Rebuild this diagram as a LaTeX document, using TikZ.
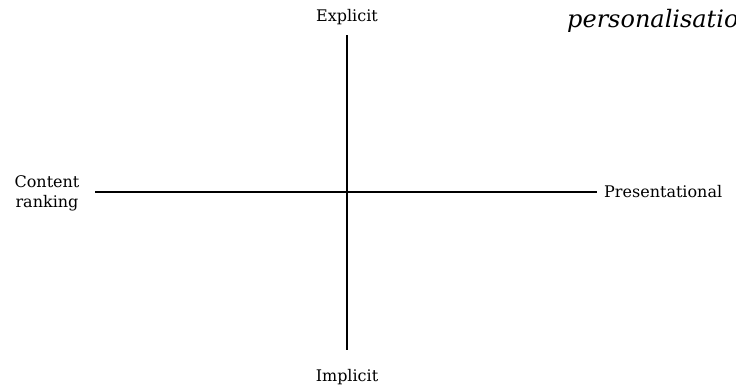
\documentclass[tikz,border=0pt]{standalone}
\usepackage{fontspec}
\setmainfont{DejaVu Serif}
\usepackage{tikz}
\usetikzlibrary{positioning}

\begin{document}
\begin{tikzpicture}[
  x=1pt, y=-1pt,
  lbl/.style={font=\fontsize{16}{20}\selectfont, inner sep=1pt, align=center},
  ttl/.style={font=\fontsize{24}{27}\selectfont\itshape, inner sep=0pt, anchor=west},
  axis/.style={line width=1.2pt},
]
\useasboundingbox (0,0) rectangle (736,391);
\clip (0,0) rectangle (736,391);

% Axis ends
\coordinate (top) at (347,35);
\coordinate (bottom) at (347,350);
\coordinate (left) at (95,192);
\coordinate (right) at (597,192);

% Labels
\node[lbl] (explicit) at (347,17) {Explicit};
\node[lbl] (implicit) at (347,377) {Implicit};
\node[lbl] (content) at (47,193) {Content\\ranking};
\node[lbl, anchor=west] (present) at (603,192) {Presentational};
\node[ttl] (title) at (567,21) {personalisation};

% Axes
\draw[axis] (top) -- (bottom);
\draw[axis] (left) -- (right);

\end{tikzpicture}
\end{document}
